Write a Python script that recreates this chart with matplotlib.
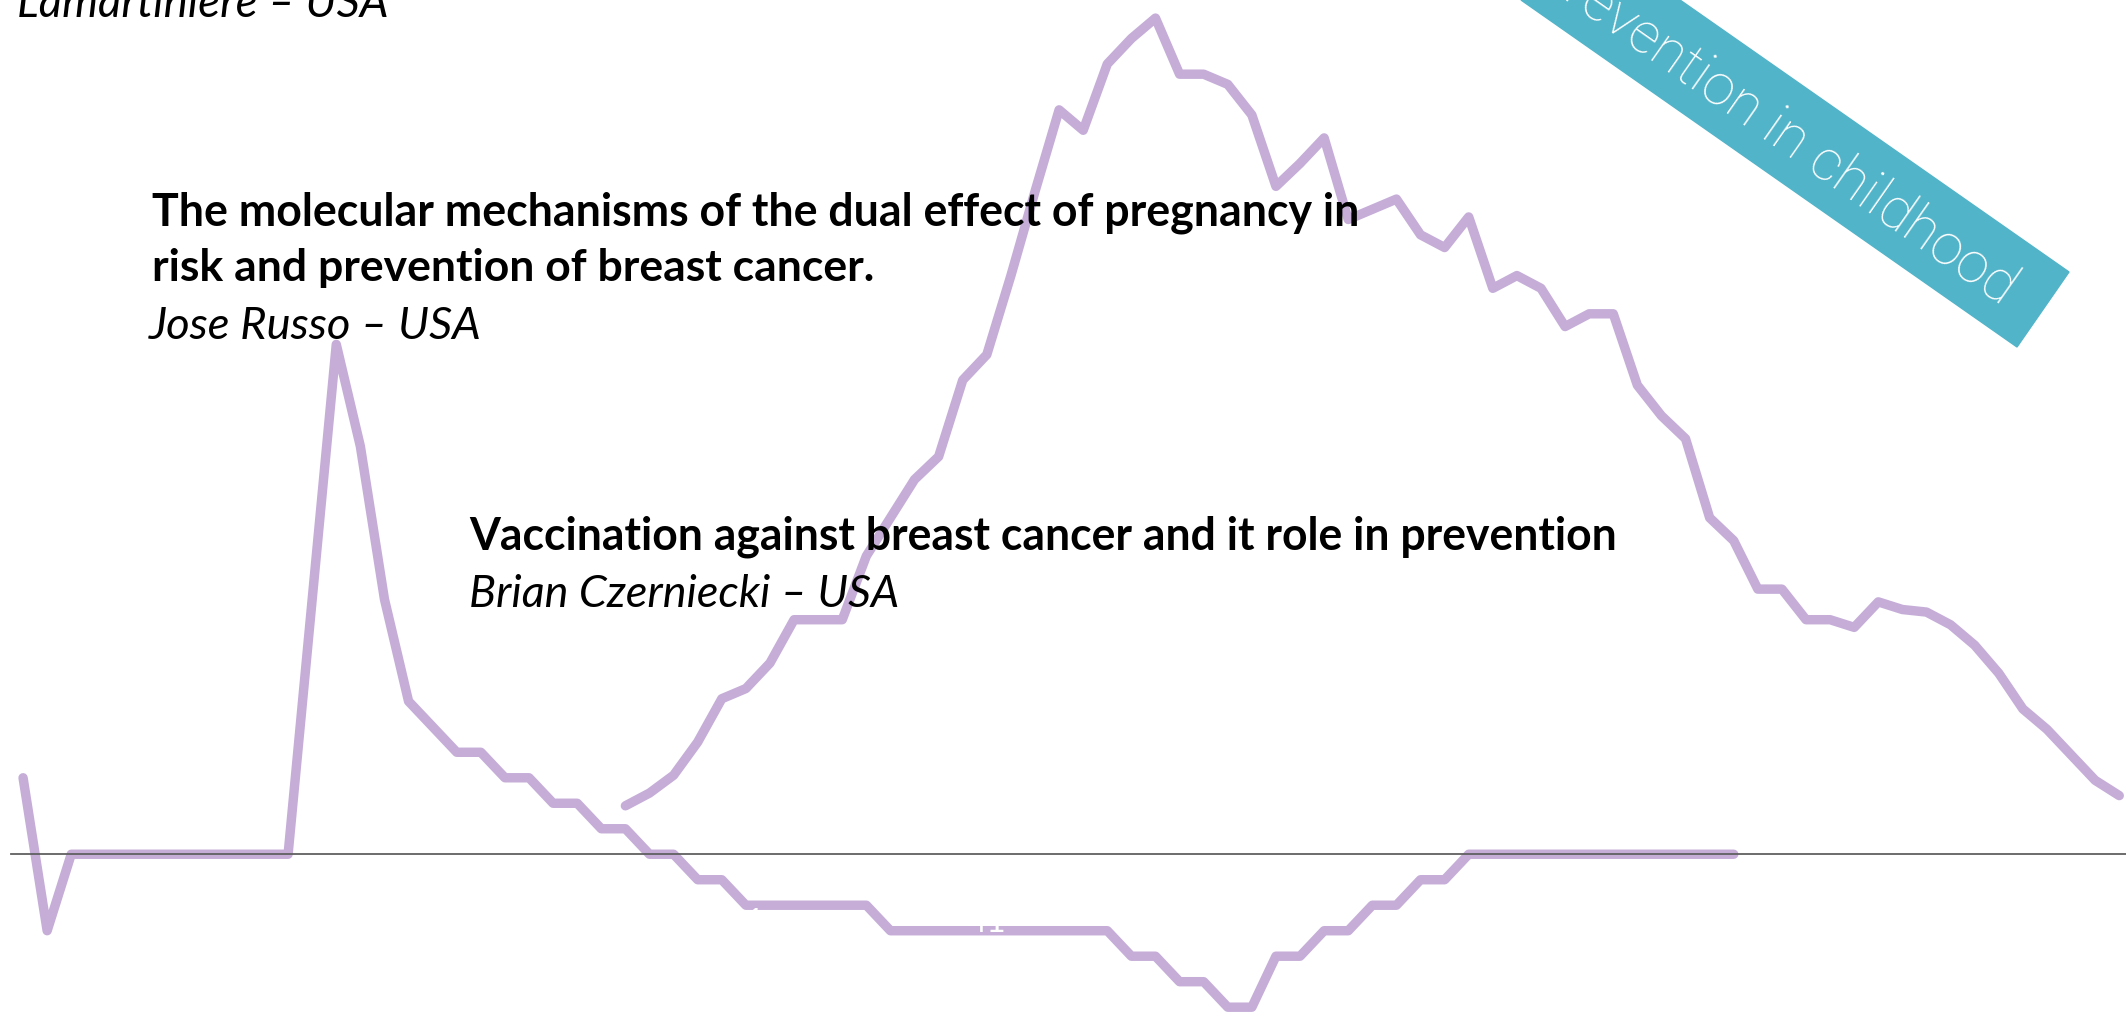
import numpy as np
import matplotlib.pyplot as plt
from matplotlib.patches import Polygon

W, H, DPI = 2126, 1023, 100

# Datos (categorias 0..87)
x_a = np.arange(0, 72)
serie_a = [3, -3, 0, 0, 0, 0, 0, 0, 0, 0, 0, 0, 10, 20, 16, 10, 6, 5, 4, 4,
           3, 3, 2, 2, 1, 1, 0, 0, -1, -1, -2, -2, -2, -2, -2, -2,
           -3, -3, -3, -3, -3, -3, -3, -3, -3, -3, -4, -4, -5, -5, -6, -6,
           -4, -4, -3, -3, -2, -2, -1, -1, 0, 0, 0, 0, 0, 0, 0, 0, 0, 0, 0, 0]

x_b = np.arange(25, 88)
serie_b = [1.9, 2.4, 3.1, 4.4, 6.1, 6.5, 7.5, 9.2, 9.2, 9.2, 11.7, 13.2, 14.7,
           15.6, 18.6, 19.6, 22.7, 26.0, 29.2, 28.4, 31.0, 32.0, 32.8, 30.6,
           30.6, 30.2, 29.0, 26.2, 27.1, 28.1, 24.9, 25.3, 25.7, 24.3, 23.8,
           25.0, 22.2, 22.7, 22.2, 20.7, 21.2, 21.2, 18.4, 17.2, 16.3, 13.2,
           12.3, 10.4, 10.4, 9.2, 9.2, 8.9, 9.9, 9.6, 9.5, 9.0, 8.2, 7.1, 5.7,
           4.9, 3.9, 2.9, 2.3]

# Etiquetas del eje x (blancas, solo se ven sobre la linea)
pos_etiquetas = np.arange(0, 88, 10)
etiquetas = [str(i + 1) for i in pos_etiquetas]

violeta = '#c5add8'
turquesa = '#51b4c9'

fig = plt.figure(figsize=(W / DPI, H / DPI), dpi=DPI)
ax = fig.add_axes([0, 0, 1, 1])
ax.set_xlim(-0.957, 87.28)
ax.set_ylim(-6.62, 33.51)
ax.axis('off')

ax.plot(x_a, serie_a, color=violeta, lw=6.8, solid_capstyle='round', solid_joinstyle='round', zorder=2)
ax.plot(x_b, serie_b, color=violeta, lw=6.8, solid_capstyle='round', solid_joinstyle='round', zorder=2)
ax.axhline(0, xmin=11 / W, color='#606060', lw=1.3, zorder=3)

for p, t in zip(pos_etiquetas, etiquetas):
    ax.text(p, -3.05, t, color='white', fontsize=24, family='Lato', ha='center', va='baseline', zorder=4)


def px(x, y):
    return x / W, 1 - y / H


# Banda turquesa girada
esquinas = [px(1521, 0), px(2017, 347), px(2069, 272), px(1680, 0)]
fig.add_artist(Polygon(esquinas, closed=True, transform=fig.transFigure, color=turquesa, zorder=5))
fig.text(*px(2010, 294), 'Prevention in childhood', color='white', fontsize=41, family='Roboto',
         fontweight='light', rotation=-35, rotation_mode='anchor', ha='right', va='center', zorder=6)

# Textos (x izquierda, linea base, ancho objetivo en px)
textos = [
    ('Lamartiniere – USA', 17, 17, 371, 'normal', 'italic'),
    ('The molecular mechanisms of the dual effect of pregnancy in', 152, 225, 1208, 'bold', 'normal'),
    ('risk and prevention of breast cancer.', 152, 281, 720, 'bold', 'normal'),
    ('Jose Russo – USA', 149, 339, 332, 'normal', 'italic'),
    ('Vaccination against breast cancer and it role in prevention', 469, 549, 1147, 'bold', 'normal'),
    ('Brian Czerniecki – USA', 469, 607, 430, 'normal', 'italic'),
]

fig.canvas.draw()
r = fig.canvas.get_renderer()
for s, x, y, ancho, peso, estilo in textos:
    t = fig.text(*px(x, y), s, fontsize=30, family='Lato', fontweight=peso, fontstyle=estilo,
                 ha='left', va='baseline', zorder=6)
    w = t.get_window_extent(r).width
    t.set_fontsize(30 * ancho / w)

fig.savefig('out.png', dpi=DPI)
